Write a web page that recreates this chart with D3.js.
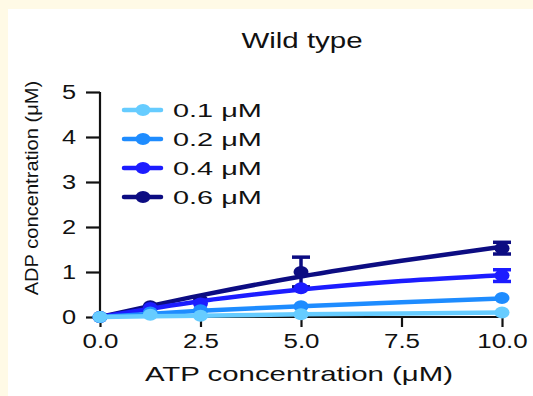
<!DOCTYPE html>
<html>
<head>
<meta charset="utf-8">
<script src="https://cdn.jsdelivr.net/npm/d3@7"></script>
<style>
  html, body { margin: 0; padding: 0; background: #fffae6; }
  svg { display: block; font-family: "Liberation Sans", Arial, sans-serif; }
</style>
</head>
<body>
<script>
  // ATP concentration (uM)
  var atp = [0, 1.25, 2.5, 5, 10];
  var seriesNames = ['0.1 \u03bcM', '0.2 \u03bcM', '0.4 \u03bcM', '0.6 \u03bcM'];
  var seriesColors = ['#66ccff', '#1e8cff', '#1c1cff', '#0c0c82'];

  // measured ADP (uM)
  var adp01 = [0, 0.05, 0.03, 0.06, 0.10];
  var adp02 = [0, 0.10, 0.15, 0.24, 0.42];
  var adp04 = [0, 0.20, 0.30, 0.64, 0.92];
  var adp06 = [0, 0.24, 0.38, 1.00, 1.53];

  // error (SD)
  var err01 = [0, 0, 0, 0, 0];
  var err02 = [0, 0, 0, 0, 0];
  var err04 = [0, 0, 0, 0, 0.13];
  var err06 = [0, 0, 0, 0.33, 0.13];

  // fitted curves
  var fitX = [0, 2.5, 5, 7.5, 10];
  var fit01 = [0, 0.03, 0.06, 0.08, 0.10];
  var fit02 = [0, 0.14, 0.24, 0.33, 0.41];
  var fit04 = [0, 0.35, 0.61, 0.80, 0.93];
  var fit06 = [0, 0.48, 0.90, 1.25, 1.56];

  var xTicks = [0, 2.5, 5, 7.5, 10];
  var yTicks = [0, 1, 2, 3, 4, 5];

  var values = [adp01, adp02, adp04, adp06];
  var errors = [err01, err02, err04, err06];
  var fits = [fit01, fit02, fit04, fit06];

  var W = 533, H = 396;
  var svg = d3.select('body').append('svg').attr('width', W).attr('height', H);

  // the figure's font is a wide grotesque, so widen Liberation Sans a bit
  function stretch(sel, sx) {
    sel.each(function() {
      var t = d3.select(this);
      var tx = +t.attr('x') || 0, ty = +t.attr('y') || 0;
      t.attr('transform', 'translate(' + tx + ',' + ty + ') scale(' + sx + ',1) translate(' + (-tx) + ',' + (-ty) + ')');
    });
  }

  svg.append('rect')
    .attr('x', 8).attr('y', 9)
    .attr('width', W - 8).attr('height', H - 9)
    .attr('fill', '#ffffff');

  var x = d3.scaleLinear().domain([0, 10]).range([100, 502]);
  var y = d3.scaleLinear().domain([0, 5]).range([317, 92]);

  // axes
  var xAxis = svg.append('g')
    .attr('transform', 'translate(0,' + y(0) + ')')
    .call(d3.axisBottom(x).tickValues(xTicks).tickFormat(d3.format('.1f')).tickSize(10).tickPadding(7));
  var yAxis = svg.append('g')
    .attr('transform', 'translate(' + x(0) + ',0)')
    .call(d3.axisLeft(y).tickValues(yTicks).tickFormat(d3.format('d')).tickSize(14).tickPadding(10));

  [xAxis, yAxis].forEach(function(ax) {
    ax.select('.domain').attr('stroke', '#111').attr('stroke-width', 2.2);
    ax.selectAll('.tick line').attr('stroke', '#111').attr('stroke-width', 2.2);
    ax.selectAll('.tick text').attr('fill', '#111').style('font-size', '19.5px');
  });
  yAxis.select('.domain').attr('d', 'M0,' + y(5) + 'V' + (y(0) + 1));
  xAxis.select('.domain').attr('d', 'M' + x(0) + ',0H' + x(10));
  stretch(xAxis.selectAll('.tick text'), 1.33);
  stretch(yAxis.selectAll('.tick text'), 1.3);

  // titles
  var title = svg.append('text')
    .attr('x', 302).attr('y', 48)
    .attr('text-anchor', 'middle')
    .style('font-size', '22px')
    .attr('fill', '#111')
    .text('Wild type');
  stretch(title, 1.34);

  var xLabel = svg.append('text')
    .attr('x', 299).attr('y', 381)
    .attr('text-anchor', 'middle')
    .style('font-size', '21px')
    .attr('fill', '#111')
    .text('ATP concentration (\u03bcM)');
  stretch(xLabel, 1.4);

  svg.append('text')
    .attr('transform', 'translate(38,188) rotate(-90) scale(1.15,1)')
    .attr('text-anchor', 'middle')
    .style('font-size', '17.5px')
    .attr('fill', '#111')
    .text('ADP concentration (\u03bcM)');

  // data, darkest first so the lightest sits on top
  var line = d3.line()
    .x(function(d) { return x(d[0]); })
    .y(function(d) { return y(d[1]); })
    .curve(d3.curveMonotoneX);

  var order = [3, 2, 1, 0];
  order.forEach(function(i) {
    var g = svg.append('g').attr('class', 'series');
    var color = seriesColors[i];

    g.append('path')
      .datum(fitX.map(function(v, j) { return [v, fits[i][j]]; }))
      .attr('d', line)
      .attr('fill', 'none')
      .attr('stroke', color)
      .attr('stroke-width', 4.5)
      .attr('stroke-linecap', 'round');

    var pts = atp.map(function(v, j) { return { x: v, y: values[i][j], e: errors[i][j] }; });

    var eb = g.selectAll('g.err').data(pts.filter(function(d) { return d.e > 0; }))
      .enter().append('g').attr('class', 'err')
      .attr('stroke', color).attr('stroke-width', 3.5);
    eb.append('line')
      .attr('x1', function(d) { return x(d.x); }).attr('x2', function(d) { return x(d.x); })
      .attr('y1', function(d) { return y(d.y + d.e); }).attr('y2', function(d) { return y(d.y - d.e); });
    eb.append('line')
      .attr('x1', function(d) { return x(d.x) - 9; }).attr('x2', function(d) { return x(d.x) + 9; })
      .attr('y1', function(d) { return y(d.y + d.e); }).attr('y2', function(d) { return y(d.y + d.e); });
    eb.append('line')
      .attr('x1', function(d) { return x(d.x) - 9; }).attr('x2', function(d) { return x(d.x) + 9; })
      .attr('y1', function(d) { return y(d.y - d.e); }).attr('y2', function(d) { return y(d.y - d.e); });

    g.selectAll('ellipse').data(pts).enter().append('ellipse')
      .attr('cx', function(d) { return x(d.x); })
      .attr('cy', function(d) { return y(d.y); })
      .attr('rx', 7.5).attr('ry', 6)
      .attr('fill', color);
  });

  // legend
  var legend = svg.append('g').selectAll('g').data(seriesNames).enter().append('g')
    .attr('transform', function(d, i) { return 'translate(0,' + (110 + i * 29) + ')'; });
  legend.append('line')
    .attr('x1', 124).attr('x2', 161).attr('y1', 0).attr('y2', 0)
    .attr('stroke', function(d, i) { return seriesColors[i]; })
    .attr('stroke-width', 4.5).attr('stroke-linecap', 'round');
  legend.append('ellipse')
    .attr('cx', 143).attr('cy', 0).attr('rx', 7.5).attr('ry', 6)
    .attr('fill', function(d, i) { return seriesColors[i]; });
  var legendText = legend.append('text')
    .attr('x', 173).attr('y', 7)
    .style('font-size', '19px')
    .attr('fill', '#111')
    .text(function(d) { return d; });
  stretch(legendText, 1.52);
</script>
</body>
</html>
